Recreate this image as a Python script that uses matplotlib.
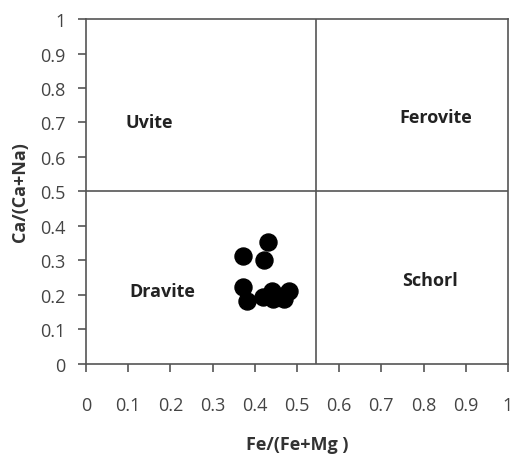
import matplotlib.pyplot as plt

# Fe/(Fe+Mg) and Ca/(Ca+Na) of the analysed tourmalines
fe_ratio = [0.432, 0.371, 0.423, 0.371, 0.381, 0.420, 0.440, 0.444, 0.464, 0.480, 0.470]
ca_ratio = [0.353, 0.312, 0.300, 0.222, 0.183, 0.193, 0.212, 0.188, 0.198, 0.212, 0.188]

# field boundaries
fe_split = 0.545
ca_split = 0.5

field_names = ['Uvite', 'Ferovite', 'Dravite', 'Schorl']
field_x = [0.15, 0.83, 0.18, 0.815]
field_y = [0.70, 0.716, 0.21, 0.243]

ticks = [0, 0.1, 0.2, 0.3, 0.4, 0.5, 0.6, 0.7, 0.8, 0.9, 1]
tick_labels = ['0', '0.1', '0.2', '0.3', '0.4', '0.5', '0.6', '0.7', '0.8', '0.9', '1']

plt.rcParams['font.family'] = ['Open Sans', 'DejaVu Sans']

fig = plt.figure(figsize=(5.12, 4.56), dpi=100)
ax = fig.add_axes([0.168, 0.2, 0.824, 0.756])

line_col = '#555555'
ax.axvline(fe_split, color=line_col, lw=1.2)
ax.axhline(ca_split, color=line_col, lw=1.2)

ax.scatter(fe_ratio, ca_ratio, s=150, color='black', zorder=3)

for name, x, y in zip(field_names, field_x, field_y):
    ax.text(x, y, name, ha='center', va='center', fontsize=13,
            fontweight='bold', color='#222222')

ax.set_xlim(0, 1)
ax.set_ylim(0, 1)
ax.set_xticks(ticks)
ax.set_xticklabels(tick_labels)
ax.set_yticks(ticks)
ax.set_yticklabels(tick_labels)
for sp in ax.spines.values():
    sp.set_color(line_col)
    sp.set_linewidth(1.2)
ax.tick_params(axis='both', direction='out', length=6, width=1.2,
               color=line_col, labelcolor='#444444', labelsize=13)
ax.tick_params(axis='x', pad=17)
ax.tick_params(axis='y', pad=9)

ax.set_xlabel('Fe/(Fe+Mg )', fontsize=13, fontweight='bold',
              color='#333333', labelpad=15)
ax.set_ylabel('Ca/(Ca+Na)', fontsize=13, fontweight='bold',
              color='#333333', labelpad=8)

fig.savefig('out.png', dpi=100)
